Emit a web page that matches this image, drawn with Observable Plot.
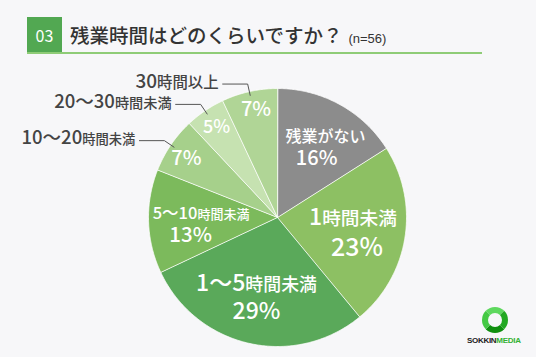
<!DOCTYPE html>
<html><head><meta charset="utf-8">
<script src="https://cdn.jsdelivr.net/npm/d3@7"></script>
<script src="https://cdn.jsdelivr.net/npm/@observablehq/plot@0.6"></script>
<style>
html,body{margin:0;padding:0;background:#f7f7f9;}
#wrap{position:relative;width:536px;height:357px;overflow:hidden;font-family:"Noto Sans CJK JP","Noto Sans",sans-serif;background:#f7f7f9;}
#header{position:relative;height:60px;}
#num{position:absolute;left:27px;top:17px;width:35px;height:36px;background:#52a852;color:#fff;font-size:16px;line-height:36px;text-align:center;}
#title{position:absolute;left:70px;top:20px;font-size:19.5px;color:#333;line-height:30px;font-weight:500;white-space:nowrap;}
#title small{font-size:13px;font-family:"Liberation Sans",sans-serif;margin-left:6px;color:#333;}
#rule{position:absolute;left:27px;top:52px;width:455px;height:2px;background:#8fcc77;}
#chart svg{display:block;}
#ring{position:absolute;left:482px;top:307px;width:14px;height:14px;border-radius:50%;border:6px solid #2bb52b;border-top-color:#5ed85e;border-right-color:#22a822;border-bottom-color:#0f8f0f;border-left-color:#44c944;}
#brand{position:absolute;left:467px;top:336px;font-family:"Liberation Sans",sans-serif;font-weight:bold;font-size:8px;letter-spacing:-0.3px;color:#222;white-space:nowrap;}
#brand span{color:#33b233;}
</style>
</head><body>
<div id="wrap">
  <div id="header">
    <div id="num">03</div>
    <div id="title">残業時間はどのくらいですか？<small>(n=56)</small></div>
    <div id="rule"></div>
  </div>
  <div id="chart"></div>
  <div id="ring"></div>
  <div id="brand">SOKKIN<span>MEDIA</span></div>
</div>
<script>
// ---- data ----
const categories = ["残業がない","1時間未満","1～5時間未満","5～10時間未満","10～20時間未満","20～30時間未満","30時間以上"];
const percents = [16, 23, 29, 13, 7, 5, 7];
const innerLine1 = ["残業がない","1時間未満","1～5時間未満","5～10時間未満","","",""];
const outerIndex = [4, 5, 6];

// ---- styles / layout ----
const colors = ["#8c8c8c","#8dc063","#5aa95a","#7cba5c","#a6d08b","#c6e2b1","#b0d596"];
const R = 129;
const labelRadius = [0.63, 0.62, 0.66, 0.63, 0.83, 0.84, 0.85];
// px offsets from the label centroid: [dx, dy]
const line1Offset = [[8.8,-9.5],[-3.5,-12.5],[-2.4,-17],[4.8,-6.8],[0,0],[0,0],[0,0]];
const line2Offset = [[0,12.2],[0.5,18],[-2.4,11],[-5.7,15],[-2.5,1],[0,-0.8],[2.4,-0.5]];
const line1Size = [16, 23, 23, 16.5, 0, 0, 0];
const line1Ratio = [1, 0.815, 0.78, 0.79, 1, 1, 1];
const pctSize = [20, 25, 23, 20.5, 20, 18, 20];
const outerSize = [18.5, 18.5, 19];
const outerRatio = [0.72, 0.77, 0.81];

const arcs = d3.pie().sort(null).value(d => d)(percents);

// slice polygons
const slicePts = [];
arcs.forEach((a, i) => {
  slicePts.push({cat: categories[i], x: 0, y: 0});
  const n = Math.max(2, Math.ceil((a.endAngle - a.startAngle) / 0.01));
  for (let k = 0; k <= n; k++) {
    const t = a.startAngle + (a.endAngle - a.startAngle) * k / n;
    slicePts.push({cat: categories[i], x: Math.sin(t), y: Math.cos(t)});
  }
});

// inner labels
const line1Rows = [], pctRows = [];
arcs.forEach((a, i) => {
  const m = (a.startAngle + a.endAngle) / 2;
  const cx = labelRadius[i] * Math.sin(m), cy = labelRadius[i] * Math.cos(m);
  if (innerLine1[i]) line1Rows.push({i, text: innerLine1[i], x: cx + line1Offset[i][0] / R, y: cy - line1Offset[i][1] / R, size: line1Size[i], ratio: line1Ratio[i]});
  pctRows.push({i, text: percents[i] + "%", x: cx + line2Offset[i][0] / R, y: cy - line2Offset[i][1] / R, size: pctSize[i]});
});

// outer labels + leaders
const leaderPts = [], outerRows = [];
outerIndex.forEach((i, j) => {
  const a = arcs[i];
  const m = (a.startAngle + a.endAngle) / 2;
  const p0 = {x: 0.97 * Math.sin(m), y: 0.97 * Math.cos(m)};
  const p1 = {x: 1.06 * Math.sin(m), y: 1.06 * Math.cos(m)};
  const p2 = {x: p1.x - 25 / R, y: p1.y};
  [p0, p1, p2].forEach(p => leaderPts.push({cat: categories[i], x: p.x, y: p.y}));
  outerRows.push({i, text: categories[i], x: p2.x - 4 / R, y: p2.y + 2.5 / R, size: outerSize[j], ratio: outerRatio[j]});
});

const chart = Plot.plot({
  width: 536, height: 297,
  marginTop: 0, marginRight: 0, marginBottom: 0, marginLeft: 0,
  x: {domain: [-1, 1], range: [277 - R, 277 + R], axis: null},
  y: {domain: [-1, 1], range: [157 + R, 157 - R], axis: null},
  color: {domain: categories, range: colors},
  style: {background: "transparent", fontFamily: "'Noto Sans CJK JP', sans-serif"},
  marks: [
    Plot.line(slicePts, {x: "x", y: "y", z: "cat", fill: "cat", stroke: "#ffffff", strokeWidth: 1, strokeOpacity: 0.75, curve: "linear-closed"}),
    Plot.line(leaderPts, {x: "x", y: "y", z: "cat", stroke: "#555", strokeWidth: 1}),
    Plot.text(line1Rows, {x: "x", y: "y", text: "text", fill: "#fff", fontSize: "size", fontWeight: 500}),
    Plot.text(pctRows, {x: "x", y: "y", text: "text", fill: "#fff", fontSize: "size", fontWeight: 500}),
    Plot.text(outerRows, {x: "x", y: "y", text: "text", fill: "#444", fontSize: "size", fontWeight: 500, textAnchor: "end"})
  ]
});
document.getElementById("chart").appendChild(chart);

// mixed sizes: digits larger, kana/kanji smaller
const DIG = /([0-9～~%]+)/;
function mix(textNodes, rows) {
  textNodes.forEach((el, k) => {
    const base = rows[k].size, ratio = rows[k].ratio;
    if (ratio === 1) return;
    const txt = el.textContent;
    while (el.firstChild) el.removeChild(el.firstChild);
    txt.split(DIG).filter(s => s.length).forEach(s => {
      const ts = document.createElementNS("http://www.w3.org/2000/svg", "tspan");
      ts.textContent = s;
      ts.setAttribute("font-size", (/^[0-9～~%]+$/.test(s) ? base : base * ratio).toFixed(1));
      el.appendChild(ts);
    });
  });
}
const textGroups = Array.from(chart.querySelectorAll('g[aria-label="text"]'));
if (textGroups.length >= 3) {
  mix(Array.from(textGroups[0].querySelectorAll("text")), line1Rows);
  mix(Array.from(textGroups[2].querySelectorAll("text")), outerRows);
}
</script>
</body></html>
